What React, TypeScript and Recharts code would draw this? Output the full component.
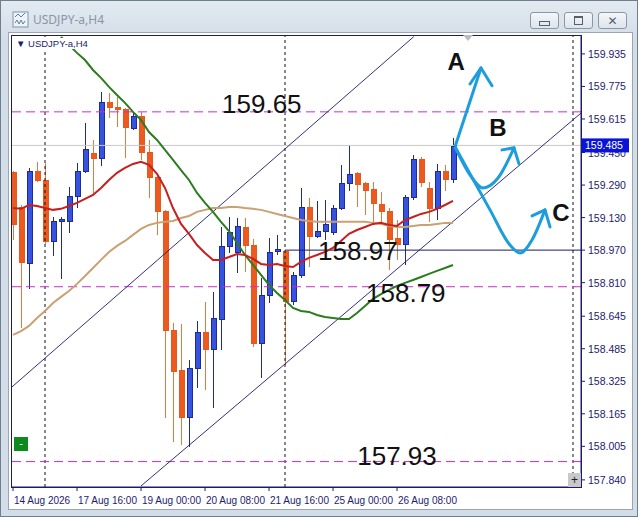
import React from "react";
import { ComposedChart, Bar, Line, XAxis, YAxis, ReferenceLine, ReferenceDot } from "recharts";

// bar index: 0 = 17 Aug 00:00, one step = 4h
const barIndex = [-4, -3, -2, -1, 0, 1, 2, 3, 4, 5, 6, 7, 8, 9, 10, 11, 12, 13, 14, 15, 16, 17, 18, 19, 20, 21, 22, 23, 24, 25, 26, 27, 28, 29, 30, 31, 32, 33, 34, 35, 36, 37, 38, 39, 40, 41, 42, 43, 44, 45, 46, 47, 48, 49, 50, 51];
const opens = [159.35, 159.182, 158.902, 159.359, 159.31, 159.01, 159.109, 159.113, 159.236, 159.355, 159.443, 159.423, 159.694, 159.669, 159.664, 159.566, 159.625, 159.448, 159.325, 159.158, 158.577, 158.376, 158.145, 158.39, 158.563, 158.479, 158.627, 158.986, 158.956, 159.079, 158.995, 158.513, 158.745, 158.961, 158.961, 158.715, 158.843, 159.182, 159.035, 159.064, 159.055, 159.177, 159.296, 159.345, 159.296, 159.266, 159.192, 159.158, 159.025, 159.0, 159.227, 159.414, 159.271, 159.173, 159.355, 159.315];
const highs = [159.359, 159.192, 159.374, 159.404, 159.399, 159.133, 159.133, 159.281, 159.399, 159.596, 159.512, 159.748, 159.743, 159.723, 159.669, 159.65, 159.65, 159.512, 159.34, 159.168, 158.612, 158.607, 158.43, 158.622, 158.715, 158.764, 159.084, 159.133, 159.128, 159.128, 159.025, 158.833, 159.03, 159.045, 158.966, 158.863, 159.276, 159.227, 159.212, 159.217, 159.192, 159.389, 159.487, 159.355, 159.305, 159.305, 159.256, 159.177, 159.118, 159.241, 159.438, 159.428, 159.305, 159.394, 159.389, 159.522];
const lows = [159.02, 158.587, 158.779, 159.305, 159.0, 158.941, 158.828, 159.055, 159.177, 159.35, 159.241, 159.384, 159.62, 159.576, 159.423, 159.561, 159.414, 159.227, 159.045, 158.145, 158.026, 158.012, 158.002, 158.292, 158.282, 158.194, 158.479, 158.956, 158.858, 158.863, 158.494, 158.341, 158.71, 158.946, 158.405, 158.7, 158.833, 158.887, 159.03, 159.02, 159.045, 159.168, 159.261, 159.182, 159.143, 159.094, 159.109, 158.872, 158.922, 158.897, 159.217, 159.281, 159.109, 159.118, 159.261, 159.3];
const closes = [159.094, 158.907, 159.359, 159.31, 159.01, 159.113, 159.123, 159.236, 159.355, 159.463, 159.423, 159.694, 159.669, 159.664, 159.571, 159.625, 159.448, 159.325, 159.158, 158.577, 158.371, 158.145, 158.39, 158.563, 158.479, 158.636, 158.986, 159.059, 159.084, 158.995, 158.513, 158.745, 158.956, 158.971, 158.715, 158.843, 159.182, 159.035, 159.064, 159.094, 159.177, 159.296, 159.34, 159.291, 159.261, 159.197, 159.158, 159.02, 159.0, 159.227, 159.414, 159.305, 159.173, 159.355, 159.315, 159.482];

const redMa = [159.177, 159.173, 159.192, 159.187, 159.177, 159.168, 159.173, 159.187, 159.202, 159.222, 159.241, 159.276, 159.315, 159.35, 159.374, 159.394, 159.404, 159.389, 159.345, 159.276, 159.177, 159.099, 159.05, 158.995, 158.956, 158.922, 158.922, 158.936, 158.951, 158.946, 158.927, 158.902, 158.897, 158.902, 158.892, 158.887, 158.912, 158.932, 158.946, 158.961, 158.981, 159.015, 159.05, 159.069, 159.084, 159.099, 159.104, 159.094, 159.089, 159.118, 159.133, 159.148, 159.158, 159.173, 159.192, 159.212];
const tanMa = [158.553, 158.572, 158.597, 158.636, 158.671, 158.71, 158.74, 158.769, 158.804, 158.843, 158.882, 158.922, 158.961, 158.991, 159.015, 159.045, 159.074, 159.094, 159.104, 159.109, 159.113, 159.128, 159.138, 159.158, 159.168, 159.177, 159.177, 159.182, 159.182, 159.177, 159.173, 159.168, 159.158, 159.148, 159.138, 159.128, 159.118, 159.113, 159.109, 159.109, 159.109, 159.109, 159.109, 159.109, 159.109, 159.104, 159.099, 159.089, 159.084, 159.084, 159.089, 159.094, 159.094, 159.099, 159.104, 159.104];
const greenMa = [null, null, null, null, null, null, 160.019, 159.979, 159.94, 159.905, 159.856, 159.817, 159.773, 159.733, 159.694, 159.65, 159.61, 159.551, 159.512, 159.463, 159.414, 159.364, 159.315, 159.251, 159.202, 159.158, 159.109, 159.064, 159.005, 158.946, 158.897, 158.848, 158.799, 158.759, 158.725, 158.686, 158.671, 158.666, 158.651, 158.641, 158.636, 158.631, 158.631, 158.661, 158.695, 158.73, 158.754, 158.774, 158.794, 158.809, 158.823, 158.838, 158.853, 158.868, 158.882, 158.897];

const priceTicks = [159.935, 159.775, 159.615, 159.45, 159.29, 159.13, 158.97, 158.81, 158.645, 158.485, 158.325, 158.165, 158.005, 157.84, 159.485];
const bidPrice = 159.485;
const timeTicks = [-4, 4, 12, 20, 28, 36, 44];
const timeLabels = ["14 Aug 2026", "17 Aug 16:00", "19 Aug 00:00", "20 Aug 08:00", "21 Aug 16:00", "25 Aug 00:00", "26 Aug 08:00"];
const weekSeparators = [0, 30, 66];

const dashedLevels = [159.65, 158.79, 157.93];
const solidLevel = 158.97;
const solidLevelFrom = 30;
const levelTexts = [
  { i: 27.1, p: 159.689, text: "159.65" },
  { i: 39.1, p: 158.966, text: "158.97" },
  { i: 45.1, p: 158.759, text: "158.79" },
  { i: 44.0, p: 157.957, text: "157.93" },
];
const upperChannel = [{ x: -4.25, y: 158.293 }, { x: 46.1, y: 160.02 }];
const lowerChannel = [{ x: 12, y: 157.81 }, { x: 67, y: 159.644 }];

const scenarioLetters = [
  { i: 51.4, p: 159.896, text: "A" },
  { i: 56.6, p: 159.571, text: "B" },
  { i: 64.5, p: 159.153, text: "C" },
];
const arrowA = [{ i: 51.25, v: 159.478 }, { i: 54.5, v: 159.866 }];
const arrowB = [{ i: 51.25, v: 159.478 }, { i: 53.125, v: 159.34 }, { i: 54.75, v: 159.276 }, { i: 56.625, v: 159.325 }, { i: 58.625, v: 159.473 }];
const arrowC = [{ i: 51.25, v: 159.478 }, { i: 55.625, v: 159.168 }, { i: 58.125, v: 158.995 }, { i: 59.375, v: 158.956 }, { i: 60.875, v: 159.02 }, { i: 62.5, v: 159.168 }];
const arrowHeads = [
  [{ x: 54.5, y: 159.866 }, { x: 53.125, y: 159.787 }],
  [{ x: 54.5, y: 159.866 }, { x: 55.875, y: 159.778 }],
  [{ x: 58.625, y: 159.473 }, { x: 57.125, y: 159.463 }],
  [{ x: 58.625, y: 159.473 }, { x: 59.25, y: 159.394 }],
  [{ x: 62.5, y: 159.168 }, { x: 60.875, y: 159.138 }],
  [{ x: 62.5, y: 159.168 }, { x: 63.125, y: 159.084 }],
];

const rows = barIndex.map((i, k) => ({
  i,
  o: opens[k],
  h: highs[k],
  l: lows[k],
  c: closes[k],
  red: redMa[k],
  tan: tanMa[k],
  green: greenMa[k],
}));

const AXIS_FONT = "'Liberation Sans', Arial, sans-serif";
const NAVY = "#1c1c6e";
const ARROW = "#1e9ddc";

function Candle(props: any) {
  const { x, y, width, height, payload } = props;
  if (!payload) return null;
  const { o, h, l, c } = payload;
  const top = Math.min(y, y + height);
  const span = Math.abs(height);
  const py = (p: number) => top + ((h - p) / (h - l || 1)) * span;
  const up = c >= o;
  const cx = Math.round(x + width / 2) + 0.5;
  const bt = py(Math.max(o, c));
  const bb = py(Math.min(o, c));
  const wick = up ? "#1d2a9a" : "#e27a3e";
  return (
    <g shapeRendering="crispEdges">
      <line x1={cx} x2={cx} y1={top} y2={top + span} stroke={wick} strokeWidth={1} />
      <rect
        x={cx - 2.5}
        y={bt}
        width={5}
        height={Math.max(1, bb - bt)}
        fill={up ? "#3553df" : "#ec5a1f"}
        stroke={up ? "#1d2a9a" : "#e8581c"}
        strokeWidth={1}
      />
    </g>
  );
}

function PriceTick(props: any) {
  const { x, y, payload } = props;
  const v = payload.value as number;
  if (v === bidPrice) {
    return (
      <g>
        <rect x={581} y={y - 7} width={48} height={14} fill="#0a14d8" />
        <text x={585} y={y + 4} fontSize={10.5} fontFamily={AXIS_FONT} fill="#ffffff">
          {v.toFixed(3)}
        </text>
      </g>
    );
  }
  return (
    <text x={x} y={y + 4} fontSize={10.5} fontFamily={AXIS_FONT} fill={NAVY}>
      {v.toFixed(3)}
    </text>
  );
}

function TimeTick(props: any) {
  const { x, y, payload } = props;
  const k = timeTicks.indexOf(payload.value);
  return (
    <text x={x + 1} y={y + 11} fontSize={10} fontFamily={AXIS_FONT} fill={NAVY}>
      {timeLabels[k]}
    </text>
  );
}

const bigText = (text: string, size: number, bold: boolean) => (p: any) => (
  <text
    x={p.cx}
    y={p.cy}
    textAnchor="middle"
    dominantBaseline="central"
    fontSize={size}
    fontWeight={bold ? 700 : 400}
    fontFamily="'Liberation Sans', Arial, sans-serif"
    fill="#111"
  >
    {text}
  </text>
);

function WinButton({ left, children }: { left: number; children: React.ReactNode }) {
  return (
    <div
      style={{
        position: "absolute",
        left,
        top: 11,
        width: 29,
        height: 17,
        border: "1px solid #8a97a6",
        borderRadius: 3,
        background: "linear-gradient(#f4f7fa, #dde4ec)",
        boxSizing: "border-box",
        display: "flex",
        alignItems: "center",
        justifyContent: "center",
      }}
    >
      {children}
    </div>
  );
}

export default function App() {
  return (
    <div
      style={{
        position: "absolute",
        left: 0,
        top: 0,
        width: 638,
        height: 517,
        overflow: "hidden",
        background: "linear-gradient(#e3eaf1, #d3dde7 40px, #d3dde7)",
        boxSizing: "border-box",
        border: "1px solid #6f7f8f",
      }}
    >
      {/* title bar */}
      <svg style={{ position: "absolute", left: 11, top: 10 }} width={18} height={18}>
        <rect x={1} y={1} width={15} height={15} fill="#eef3f8" stroke="#7f96ad" />
        <path d="M3 6 L6 3 L9 6 L13 2" stroke="#5a7fa6" fill="none" />
        <path d="M3 12 L5 9 L7 13 L9 9 L11 13 L13 10" stroke="#5a7fa6" fill="none" />
      </svg>
      <div
        style={{
          position: "absolute",
          left: 32,
          top: 10,
          fontFamily: "'Noto Sans', sans-serif",
          fontSize: 12,
          color: "#8796a6",
        }}
      >
        USDJPY-a,H4
      </div>
      <WinButton left={529}>
        <div style={{ width: 9, height: 3, border: "1px solid #55606c", marginTop: 5 }} />
      </WinButton>
      <WinButton left={563}>
        <div style={{ width: 7, height: 6, border: "1px solid #55606c", borderTopWidth: 2 }} />
      </WinButton>
      <WinButton left={597}>
        <span style={{ fontSize: 12, fontFamily: "'DejaVu Sans', sans-serif", color: "#55606c", fontWeight: 700 }}>✕</span>
      </WinButton>

      {/* client area */}
      <div
        style={{
          position: "absolute",
          left: 7,
          top: 31,
          width: 625,
          height: 478,
          background: "#ffffff",
          border: "1px solid #9aa6b2",
          boxSizing: "border-box",
        }}
      />

      <div style={{ position: "absolute", left: -1, top: -1 }}>
        <ComposedChart width={638} height={517} data={rows} margin={{ top: 35, right: 0, bottom: 0, left: 11 }}>
          <XAxis
            dataKey="i"
            type="number"
            domain={[-4.25, 67]}
            allowDataOverflow
            ticks={timeTicks}
            tick={<TimeTick />}
            tickSize={4}
            tickLine={{ stroke: NAVY }}
            axisLine={{ stroke: NAVY }}
            height={30}
            interval={0}
          />
          <YAxis
            orientation="right"
            type="number"
            domain={[157.805, 160.028]}
            allowDataOverflow
            ticks={priceTicks}
            tick={<PriceTick />}
            tickSize={4}
            tickMargin={3}
            tickLine={{ stroke: NAVY }}
            axisLine={{ stroke: NAVY }}
            width={57}
            interval={0}
          />

          <ReferenceLine y={bidPrice} stroke="#c9c9c9" strokeWidth={1} />
          {weekSeparators.map((s) => (
            <ReferenceLine key={s} x={s} stroke="#111" strokeDasharray="3 3" strokeWidth={1} />
          ))}
          {dashedLevels.map((lv) => (
            <ReferenceLine key={lv} y={lv} stroke="#d02ad0" strokeDasharray="9 5" strokeWidth={1} />
          ))}
          <ReferenceLine
            segment={[{ x: solidLevelFrom, y: solidLevel }, { x: 67, y: solidLevel }]}
            stroke="#1a1a66"
            strokeWidth={1}
          />
          <ReferenceLine segment={upperChannel} stroke="#1a1a6e" strokeWidth={0.9} />
          <ReferenceLine segment={lowerChannel} stroke="#1a1a6e" strokeWidth={0.9} />

          <Line dataKey="tan" stroke="#c9a173" strokeWidth={2} dot={false} isAnimationActive={false} />
          <Line dataKey="green" stroke="#2a7c1c" strokeWidth={2} dot={false} isAnimationActive={false} />
          <Bar dataKey={(d: any) => [d.l, d.h]} barSize={5} shape={<Candle />} isAnimationActive={false} />
          <Line dataKey="red" stroke="#c81e1e" strokeWidth={2} dot={false} isAnimationActive={false} />

          {levelTexts.map((t) => (
            <ReferenceDot key={t.text} x={t.i} y={t.p} r={0} shape={bigText(t.text, 26, false)} />
          ))}

          <Line data={arrowA} dataKey="v" stroke={ARROW} strokeWidth={3} dot={false} isAnimationActive={false} />
          <Line data={arrowB} dataKey="v" type="monotone" stroke={ARROW} strokeWidth={3} dot={false} isAnimationActive={false} />
          <Line data={arrowC} dataKey="v" type="monotone" stroke={ARROW} strokeWidth={3} dot={false} isAnimationActive={false} />
          {arrowHeads.map((seg, k) => (
            <ReferenceLine key={k} segment={seg} stroke={ARROW} strokeWidth={3} strokeLinecap="round" />
          ))}
          {scenarioLetters.map((t) => (
            <ReferenceDot key={t.text} x={t.i} y={t.p} r={0} shape={bigText(t.text, 24, true)} />
          ))}
        </ComposedChart>
      </div>

      {/* plot frame + terminal widgets */}
      <div
        style={{
          position: "absolute",
          left: 10,
          top: 34,
          width: 571,
          height: 453,
          border: "1px solid " + NAVY,
          boxSizing: "border-box",
          pointerEvents: "none",
        }}
      />
      <div
        style={{
          position: "absolute",
          left: 15,
          top: 37,
          fontFamily: AXIS_FONT,
          fontSize: 9.5,
          color: NAVY,
          background: "#fff",
        }}
      >
        ▼ USDJPY-a,H4
      </div>
      <div
        style={{
          position: "absolute",
          left: 13,
          top: 436,
          width: 14,
          height: 14,
          background: "#0f8a1f",
          color: "#fff",
          fontSize: 11,
          lineHeight: "13px",
          textAlign: "center",
          fontFamily: AXIS_FONT,
        }}
      >
        -
      </div>
      <div
        style={{
          position: "absolute",
          left: 567,
          top: 472,
          width: 13,
          height: 14,
          background: "#c9c9c9",
          color: "#222",
          fontSize: 12,
          lineHeight: "14px",
          textAlign: "center",
          fontFamily: AXIS_FONT,
        }}
      >
        +
      </div>
      <svg style={{ position: "absolute", left: 461, top: 34 }} width={12} height={8}>
        <polygon points="1,0 11,0 6,6" fill="#b8bcc8" />
      </svg>
    </div>
  );
}
